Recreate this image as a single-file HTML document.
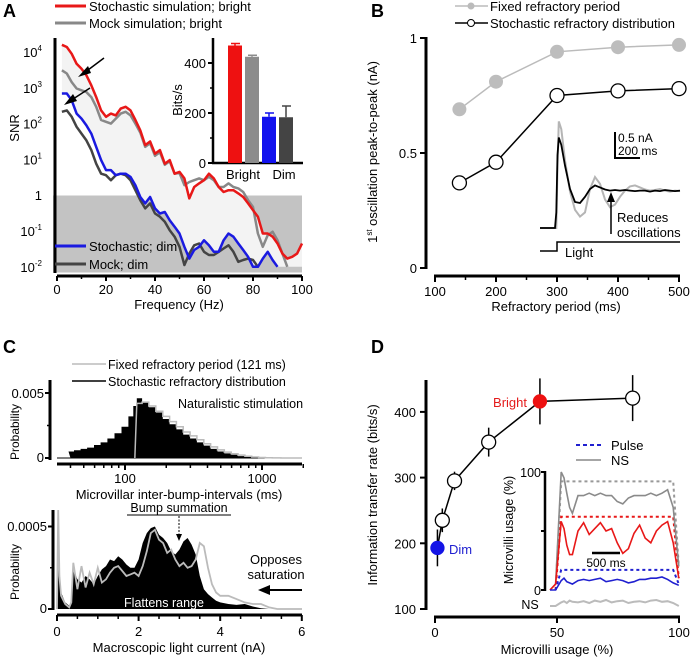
<!DOCTYPE html>
<html><head><meta charset="utf-8"><style>
html,body{margin:0;padding:0;background:#fff;}
svg{display:block;font-family:"Liberation Sans",Arial,sans-serif;}
</style></head><body>
<svg id="fig" width="691" height="657" viewBox="0 0 691 657">
<g id="pa">
<text x="3" y="17" font-size="18" font-weight="bold">A</text>
<rect x="53" y="195.5" width="249" height="77" fill="#c3c3c3"/>
<line x1="55" y1="6" x2="86" y2="6" stroke="#e81818" stroke-width="3"/>
<text x="89" y="11" font-size="13">Stochastic simulation; bright</text>
<line x1="55" y1="23" x2="86" y2="23" stroke="#888" stroke-width="3"/>
<text x="89" y="28" font-size="13">Mock simulation; bright</text>
<line x1="55" y1="38" x2="55" y2="273" stroke="#000" stroke-width="3"/>
<line x1="57" y1="276" x2="302" y2="276" stroke="#000" stroke-width="3"/>
<text transform="translate(19,128) rotate(-90)" text-anchor="middle" font-size="13">SNR</text>
<text x="179" y="309" text-anchor="middle" font-size="13">Frequency (Hz)</text>
<g id="aTicks"></g>
<g id="aFill"></g><g id="aLines"></g>
<line x1="55" y1="246" x2="86" y2="246" stroke="#1a1ae0" stroke-width="3"/>
<text x="89" y="251" font-size="13">Stochastic; dim</text>
<line x1="55" y1="264" x2="86" y2="264" stroke="#444" stroke-width="3"/>
<text x="89" y="269" font-size="13">Mock; dim</text>
<g><line x1="104" y1="58" x2="84" y2="73" stroke="#000" stroke-width="1.5"/><polygon points="78,77 88,66 91,73" fill="#000"/></g>
<g><line x1="90" y1="88" x2="70" y2="101" stroke="#000" stroke-width="1.5"/><polygon points="64,105 73,94 77,101" fill="#000"/></g>
<line x1="213" y1="38" x2="213" y2="163" stroke="#000" stroke-width="2.5"/>
<line x1="212" y1="163" x2="303" y2="163" stroke="#000" stroke-width="2.5"/>
<text transform="translate(182,100) rotate(-90)" text-anchor="middle" font-size="13">Bits/s</text>
<text x="243" y="179" text-anchor="middle" font-size="13">Bright</text>
<text x="284" y="179" text-anchor="middle" font-size="13">Dim</text>
<g id="aBars"></g>
</g>
<g id="pb">
<text x="371" y="17" font-size="18" font-weight="bold">B</text>
<line x1="455" y1="6" x2="488" y2="6" stroke="#bbb" stroke-width="1.5"/>
<circle cx="471" cy="6" r="3.5" fill="#bbb"/>
<text x="490" y="11" font-size="13">Fixed refractory period</text>
<line x1="455" y1="23" x2="488" y2="23" stroke="#000" stroke-width="1.5"/>
<circle cx="471" cy="23" r="3.5" fill="#fff" stroke="#000"/>
<text x="490" y="28" font-size="13">Stochastic refractory distribution</text>
<line x1="426" y1="37" x2="426" y2="269" stroke="#000" stroke-width="3"/>
<line x1="434" y1="276" x2="680" y2="276" stroke="#000" stroke-width="3"/>
<text transform="translate(377,152) rotate(-90)" text-anchor="middle" font-size="13">1<tspan font-size="8" dy="-5">st</tspan><tspan dy="5"> oscillation peak-to-peak (nA)</tspan></text>
<text x="556" y="311" text-anchor="middle" font-size="13">Refractory period (ms)</text>
<g id="bTicks"></g><g id="bInset"></g><g id="bLines"></g>
<polyline points="540,251 557,251 557,242 680,242" fill="none" stroke="#000" stroke-width="1.5"/>
<text x="565" y="257" font-size="13">Light</text>
<polyline points="615,132 615,158 640,158" fill="none" stroke="#000" stroke-width="2"/>
<text x="618" y="142" font-size="12">0.5 nA</text>
<text x="618" y="155" font-size="12">200 ms</text>
<g><line x1="611" y1="234" x2="611" y2="200" stroke="#000" stroke-width="1.5"/><polygon points="607,202 615,202 611,192" fill="#000"/></g>
<text x="617" y="222" font-size="13">Reduces</text>
<text x="617" y="237" font-size="13">oscillations</text>
</g>
<g id="pc">
<text x="3" y="353" font-size="18" font-weight="bold">C</text>
<line x1="72" y1="364" x2="106" y2="364" stroke="#bbb" stroke-width="1.5"/>
<text x="108" y="369" font-size="12.5">Fixed refractory period (121 ms)</text>
<line x1="72" y1="381" x2="106" y2="381" stroke="#000" stroke-width="1.5"/>
<text x="108" y="386" font-size="12.5">Stochastic refractory distribution</text>
<text x="178" y="408" font-size="12.5">Naturalistic stimulation</text>
<line x1="50" y1="380" x2="50" y2="460" stroke="#000" stroke-width="3"/>
<line x1="57" y1="464" x2="302" y2="464" stroke="#000" stroke-width="3"/>
<text transform="translate(19,432) rotate(-90)" text-anchor="middle" font-size="12">Probability</text>
<text x="179" y="499" text-anchor="middle" font-size="13">Microvillar inter-bump-intervals (ms)</text>
<g id="cTop"></g>
<line x1="53" y1="510" x2="53" y2="610" stroke="#000" stroke-width="3"/>
<line x1="57" y1="615" x2="302" y2="615" stroke="#000" stroke-width="3"/>
<text transform="translate(19,572) rotate(-90)" text-anchor="middle" font-size="12">Probability</text>
<text x="179" y="652" text-anchor="middle" font-size="13">Macroscopic light current (nA)</text>
<text x="179" y="512" text-anchor="middle" font-size="12.5">Bump summation</text>
<line x1="127" y1="515" x2="231" y2="515" stroke="#000" stroke-width="1"/>
<g id="cBot"></g>
<g><line x1="179" y1="516" x2="179" y2="536" stroke="#000" stroke-dasharray="2,1.5"/><polygon points="176,534 182,534 179,541" fill="#000"/></g>
<text x="276" y="564" text-anchor="middle" font-size="13">Opposes</text>
<text x="276" y="579" text-anchor="middle" font-size="13">saturation</text>
<g><line x1="302" y1="590" x2="266" y2="590" stroke="#000" stroke-width="2"/><polygon points="258,590 270,585 270,595" fill="#000"/></g>
<text x="164" y="607" text-anchor="middle" font-size="12.5" fill="#fff">Flattens range</text>
</g>
<g id="pd">
<text x="371" y="353" font-size="18" font-weight="bold">D</text>
<line x1="426" y1="380" x2="426" y2="610" stroke="#000" stroke-width="3"/>
<line x1="434" y1="617" x2="680" y2="617" stroke="#000" stroke-width="3"/>
<text transform="translate(377,495) rotate(-90)" text-anchor="middle" font-size="13">Information transfer rate (bits/s)</text>
<text x="557" y="654" text-anchor="middle" font-size="13">Microvilli usage (%)</text>
<g id="dTicks"></g><g id="dPts"></g>
<text x="527" y="407" text-anchor="end" font-size="13" fill="#e41a1a">Bright</text>
<text x="449" y="554" font-size="13" fill="#2020d0">Dim</text>
<line x1="576" y1="445" x2="601" y2="445" stroke="#2020d0" stroke-width="2" stroke-dasharray="4,3"/>
<text x="611" y="450" font-size="13">Pulse</text>
<line x1="576" y1="460" x2="601" y2="460" stroke="#888" stroke-width="1.5"/>
<text x="611" y="465" font-size="13">NS</text>
<line x1="545" y1="471" x2="545" y2="591" stroke="#000" stroke-width="2.5"/>
<text transform="translate(513,530) rotate(-90)" text-anchor="middle" font-size="12.5">Microvilli usage (%)</text>
<text x="541" y="477" text-anchor="end" font-size="12.5">100</text>
<text x="541" y="595" text-anchor="end" font-size="12.5">0</text>
<text x="530" y="609" text-anchor="middle" font-size="12.5">NS</text>
<line x1="592" y1="553" x2="620" y2="553" stroke="#000" stroke-width="2.5"/>
<text x="606" y="567" text-anchor="middle" font-size="12">500 ms</text>
<g id="dInset"></g>
</g>
</svg>
<script>
// ---------- Panel A data ----------
const aFreq=[2,4,6,8,10,12,14,16,18,20,22,24,26,28,30,32,34,36,38,40,42,44,46,48,50,52,54,56,58,60,62,64,66,68,70,72,74,76,78,80,82,84,86,88,90,92,94,96,98,100];
const aRedLog=[4.2,4.14,3.95,3.67,3.53,3.35,3.07,2.74,2.37,2.19,2.28,2.23,2.42,2.47,2.37,2.1,1.81,1.4,1.5,1.16,1.26,0.88,0.98,0.6,0.65,0.47,-0.09,0.23,0.33,0.42,0.6,0.47,0.23,0.09,0.14,0.14,0.05,-0.05,-0.23,-0.42,-0.6,-1.07,-1.07,-1.16,-1.35,-1.63,-1.77,-1.72,-1.63,-1.35];
const aMockLog=[3.49,3.4,3.16,2.98,2.93,2.88,2.74,2.47,2.1,2.05,2.0,2.14,2.28,2.33,2.23,2.0,1.75,1.35,1.45,1.1,1.2,0.85,0.95,0.6,0.62,0.28,0.37,0.42,0.47,0.42,0.51,0.42,0.23,0.23,0.33,0.23,0.19,0.09,-0.14,-0.33,-1.07,-1.44,-1.12,-1.02,-1.26,-1.63,-2,-2.1,-2.1,-2.1];
const aBlueLog=[2.84,2.84,2.65,2.28,2.14,1.95,1.72,1.35,0.98,0.7,0.7,0.56,0.6,0.6,0.51,0.28,-0.05,-0.23,-0.05,-0.37,-0.51,-0.47,-0.7,-0.88,-1.07,-1.44,-1.77,-1.53,-1.44,-1.26,-1.4,-1.58,-1.58,-1.26,-1.07,-1.16,-1.35,-1.53,-1.72,-2,-2,-1.77,-1.58,-1.81,-2,-2.1,-2.1,-2.1,-2.1,-2.1];
const aDimMockLog=[2.33,2.37,2.19,1.91,1.72,1.53,1.26,0.88,0.6,0.56,0.42,0.56,0.6,0.56,0.42,0.14,-0.14,-0.37,-0.23,-0.51,-0.6,-0.74,-0.98,-1.16,-1.44,-1.95,-1.63,-1.4,-1.35,-1.58,-1.67,-1.67,-1.58,-1.49,-1.4,-1.58,-1.86,-1.81,-1.77,-1.81,-2,-2.1,-2.1,-2.1,-2.1,-2.1,-2.1,-2.1,-2.1,-2.1];
const aXTicks=[0,20,40,60,80,100];
const aYTickExp=[4,3,2,1,0,-1,-2];
const barCats=["bright-stochastic","bright-mock","dim-stochastic","dim-mock"];
const barVals=[470,425,185,183];
const barErr=[8,6,15,45];
const barTicks=[0,200,400];
// ---------- Panel B data ----------
const bPeriods=[140,200,300,400,500];
const bFixed=[0.69,0.81,0.94,0.96,0.97];
const bStoch=[0.37,0.46,0.75,0.77,0.78];
const bXTicks=[100,200,300,400,500];
const bYTicks=[0,0.5,1];
const bTraceT=[0,120,130,140,150,170,200,240,280,320,360,400,440,480,520,560,600,640,680,720,760,800,840,880,920,960,1000,1040,1080,1120];
const bTraceBlack=[0,0,0.3,1.4,1.74,1.6,1.2,0.75,0.5,0.48,0.6,0.75,0.82,0.78,0.74,0.72,0.73,0.72,0.73,0.72,0.71,0.72,0.72,0.7,0.72,0.71,0.73,0.72,0.71,0.72];
const bTraceGray=[0,0,0,1.2,2.05,1.9,1.3,0.7,0.35,0.22,0.3,0.75,0.98,0.85,0.55,0.4,0.45,0.6,0.72,0.8,0.82,0.78,0.74,0.72,0.73,0.75,0.72,0.7,0.72,0.71];
// ---------- Panel C data ----------
const cIbiMs=[40,45,50,56,63,70,79,89,100,112,118,126,141,158,178,200,224,251,282,316,355,398,447,501,562,631,708,794,891,1000,1122,1259,1500];
const cIbiStoch=[0.5,0.6,0.7,0.8,1.0,1.2,1.5,1.9,2.4,3.2,4.0,4.6,4.3,3.9,3.5,3.0,2.6,2.2,1.8,1.5,1.2,0.95,0.7,0.5,0.35,0.25,0.15,0.08,0.03,0.01,0,0,0];
const cIbiFixed=[0,0,0,0,0,0,0,0,0,0,0,4.2,4.3,4.0,3.6,3.2,2.8,2.4,2.0,1.7,1.4,1.1,0.85,0.62,0.45,0.32,0.22,0.14,0.08,0.04,0.02,0.01,0];
const cTopXTicks=[100,1000];
const cCur=[0.03,0.06,0.1,0.2,0.3,0.35,0.4,0.5,0.6,0.7,0.8,0.9,1.0,1.1,1.2,1.3,1.4,1.5,1.6,1.7,1.8,1.9,2.0,2.1,2.2,2.3,2.4,2.5,2.6,2.7,2.8,2.9,3.0,3.1,3.2,3.3,3.4,3.5,3.6,3.7,3.8,3.9,4.0,4.2,4.4,4.6,4.8,5.0,5.2,5.4];
const cCurStoch=[6.0,2.5,1.0,0.4,0.2,0.5,2.4,1.8,1.6,2.0,1.8,1.5,2.0,2.4,2.6,3.0,2.9,3.2,3.0,2.7,2.5,2.5,3.0,4.0,4.6,4.9,5.0,4.5,4.3,4.0,3.5,3.3,3.6,4.1,4.3,3.9,3.3,2.0,1.2,0.9,0.7,0.5,0.4,0.3,0.25,0.3,0.15,0.05,0,0];
const cCurFixed=[6.0,2.0,0.8,0.3,0.1,0.4,2.8,1.2,2.6,1.3,2.2,1.5,2.5,1.6,1.8,2.2,2.5,2.6,2.3,2.0,2.1,2.2,2.0,2.6,3.5,4.6,4.8,4.2,4.0,3.4,3.6,3.0,2.6,2.8,2.5,2.6,3.0,4.0,3.8,2.5,1.5,1.0,0.8,0.8,0.6,0.4,0.3,0.3,0.1,0];
const cBotXTicks=[0,2,4,6];
// ---------- Panel D data ----------
const dUsage=[1,3,8,22,43,81];
const dRate=[193,235,295,354,416,421];
const dErr=[28,18,14,22,35,35];
const dXTicks=[0,50,100];
const dYTicks=[100,200,300,400];
const insT=[0,100,200,250,300,350,400,500,600,700,800,900,1000,1100,1200,1300,1400,1500,1600,1700,1800,1900,2000,2100,2200,2300];
const insGrayNS=[0,5,100,95,82,70,65,80,80,82,80,82,80,80,75,73,78,80,80,80,82,80,82,85,70,20];
const insRedNS=[0,5,58,52,38,30,30,50,57,47,52,57,50,52,40,31,35,48,55,44,40,50,55,58,40,10];
const insBlueNS=[0,0,8,10,7,6,5,8,9,8,9,10,7,8,9,8,6,7,9,9,10,10,11,9,6,4];
const pulseT=[100,200,2200,2300];
const pulseGray=[0,92,92,20];
const pulseRed=[0,62,62,10];
const pulseBlue=[0,17,17,5];
const nsStim=[0,0,0.6,0.8,0.5,0.9,0.7,0.6,0.8,0.5,0.9,0.7,1,0.6,0.8,0.9,0.5,0.7,0.8,0.6,0.9,1,0.7,0.8,0.5,0];

const NS="http://www.w3.org/2000/svg";
function mk(parent,tag,attrs,name){
  const el=document.createElementNS(NS,tag);
  for(const k in attrs) el.setAttribute(k,attrs[k]);
  
  
  document.getElementById(parent).appendChild(el);
  return el;
}
function txt(parent,x,y,s,anchor,name,size){
  const t=mk(parent,'text',{x:x,y:y,'text-anchor':anchor||'middle','font-size':size||13},name);
  t.textContent=s;return t;
}
const pts=(xs,ys,fx,fy)=>xs.map((v,i)=>fx(v).toFixed(1)+','+fy(ys[i]).toFixed(1)).join(' ');

// ---- Panel A ----
const xA=f=>57+f*2.45;
const yA=l=>52+(4-Math.max(l,-2))*35.8;
aXTicks.forEach(v=>{mk('aTicks','line',{x1:xA(v),y1:276,x2:xA(v),y2:281,stroke:'#000','stroke-width':2},'a-x-tick');txt('aTicks',xA(v),294,String(v),'middle','a-x-tick-label');});
for(let v=0;v<=100;v+=10) mk('aTicks','line',{x1:xA(v),y1:276,x2:xA(v),y2:279,stroke:'#000','stroke-width':1.5},'a-x-minor-tick');
aYTickExp.forEach(e=>{
  const t=mk('aTicks','text',{x:42,y:yA(e)+5,'text-anchor':'end','font-size':13},'a-y-tick-label');
  if(e===0){t.textContent='1';}else{t.textContent='10';const s=document.createElementNS(NS,'tspan');s.setAttribute('font-size','8');s.setAttribute('dy','-6');s.textContent=String(e);t.appendChild(s);}
});
mk('aFill','polygon',{points:pts(aFreq,aRedLog,xA,yA)+' '+pts(aFreq.slice().reverse(),aBlueLog.slice().reverse(),xA,yA),fill:'#f3f3f3'},'bright-dim-gap-fill');
[[aDimMockLog,'#444','mock-dim-line'],[aBlueLog,'#1a1ae0','stochastic-dim-line'],[aMockLog,'#888','mock-bright-line'],[aRedLog,'#e81818','stochastic-bright-line']].forEach(s=>{
  const n=s[0].findIndex((v,i)=>i>20&&v<=-2.05);const k=n<0?aFreq.length:n;
  mk('aLines','polyline',{points:pts(aFreq.slice(0,k),s[0].slice(0,k),xA,yA),fill:'none',stroke:s[1],'stroke-width':2.5,'stroke-linejoin':'round'},s[2]);
});
const yBar=v=>163-v*0.25;
const barCol=['#ee1111','#8c8c8c','#1111ee','#444'];
const barX=[228,245,262,279];
barTicks.forEach(v=>{mk('aBars','line',{x1:208,y1:yBar(v),x2:213,y2:yBar(v),stroke:'#000','stroke-width':2},'bar-y-tick');txt('aBars',206,yBar(v)+5,String(v),'end','bar-y-tick-label');});
[100,300].forEach(v=>mk('aBars','line',{x1:210,y1:yBar(v),x2:213,y2:yBar(v),stroke:'#000','stroke-width':1.5},'bar-y-minor-tick'));
barVals.forEach((v,i)=>{
  mk('aBars','line',{x1:barX[i]+7,y1:yBar(v),x2:barX[i]+7,y2:yBar(v+barErr[i]),stroke:barCol[i],'stroke-width':1.5},'bar-error-'+barCats[i]);
  mk('aBars','line',{x1:barX[i]+3,y1:yBar(v+barErr[i]),x2:barX[i]+12,y2:yBar(v+barErr[i]),stroke:barCol[i],'stroke-width':1.5},'bar-error-cap-'+barCats[i]);
  mk('aBars','rect',{x:barX[i],y:yBar(v),width:14,height:163-yBar(v),fill:barCol[i]},'bar-'+barCats[i]);
});

// ---- Panel B ----
const xB=r=>435+(r-100)*0.61;
const yB=v=>268-v*230;
bXTicks.forEach(v=>{mk('bTicks','line',{x1:xB(v),y1:276,x2:xB(v),y2:282,stroke:'#000','stroke-width':2},'b-x-tick');txt('bTicks',xB(v),296,String(v),'middle','b-x-tick-label');});
[150,250,350,450].forEach(v=>mk('bTicks','line',{x1:xB(v),y1:276,x2:xB(v),y2:280,stroke:'#000','stroke-width':1.5},'b-x-minor-tick'));
bYTicks.forEach(v=>{mk('bTicks','line',{x1:420,y1:yB(v),x2:426,y2:yB(v),stroke:'#000','stroke-width':2},'b-y-tick');txt('bTicks',417,yB(v)+5,String(v),'end','b-y-tick-label');});
const xT=t=>540+t*0.125, yT=v=>228-v*52;
mk('bInset','polyline',{points:pts(bTraceT,bTraceGray,xT,yT),fill:'none',stroke:'#b5b5b5','stroke-width':2},'trace-fixed');
mk('bInset','polyline',{points:pts(bTraceT,bTraceBlack,xT,yT),fill:'none',stroke:'#000','stroke-width':1.8},'trace-stochastic');
mk('bLines','polyline',{points:pts(bPeriods,bFixed,xB,yB),fill:'none',stroke:'#bbb','stroke-width':1.5},'fixed-line');
bPeriods.forEach((p,i)=>mk('bLines','circle',{cx:xB(p),cy:yB(bFixed[i]),r:7,fill:'#bdbdbd'},'fixed-point'));
mk('bLines','polyline',{points:pts(bPeriods,bStoch,xB,yB),fill:'none',stroke:'#000','stroke-width':1.5},'stochastic-line');
bPeriods.forEach((p,i)=>mk('bLines','circle',{cx:xB(p),cy:yB(bStoch[i]),r:7,fill:'#fff',stroke:'#000','stroke-width':1.3},'stochastic-point'));

// ---- Panel C top ----
const xC=ms=>125+(Math.log10(ms)-2)*137;
const yC=p=>458-p*13;
function stepPts(xs,ys,fx,fy){
  let s=[];
  for(let i=0;i<xs.length;i++){
    const l=i===0?fx(xs[0])-2:(fx(xs[i-1])+fx(xs[i]))/2;
    const r=i===xs.length-1?fx(xs[i])+2:(fx(xs[i])+fx(xs[i+1]))/2;
    s.push(l.toFixed(1)+','+fy(ys[i]).toFixed(1),r.toFixed(1)+','+fy(ys[i]).toFixed(1));
  }
  return s.join(' ');
}
mk('cTop','line',{x1:57,y1:458,x2:302,y2:458,stroke:'#000','stroke-width':1},'ibi-baseline');
mk('cTop','polygon',{points:xC(cIbiMs[0])+',458 '+stepPts(cIbiMs,cIbiStoch,xC,yC)+' '+xC(1500)+',458',fill:'#000'},'ibi-stochastic-hist');
mk('cTop','polyline',{points:xC(118)+',458 '+stepPts(cIbiMs.slice(11),cIbiFixed.slice(11),xC,yC)+' 302,458',fill:'none',stroke:'#bbb','stroke-width':1.5},'ibi-fixed-hist');
mk('cTop','line',{x1:45,y1:yC(5),x2:50,y2:yC(5),stroke:'#000','stroke-width':2},'c-top-y-tick');
mk('cTop','line',{x1:45,y1:458,x2:50,y2:458,stroke:'#000','stroke-width':2},'c-top-y-tick');
mk('cTop','line',{x1:47,y1:yC(2.5),x2:50,y2:yC(2.5),stroke:'#000','stroke-width':1.5},'c-top-y-minor-tick');
txt('cTop',44,398,'0.005','end','c-top-y-tick-label');txt('cTop',44,462,'0','end','c-top-y-tick-label');
[40,50,60,70,80,90,100,200,300,400,500,600,700,800,900,1000,2000].forEach(v=>{const big=v===100||v===1000;mk('cTop','line',{x1:xC(v),y1:464,x2:xC(v),y2:big?470:468,stroke:'#000','stroke-width':big?2:1.5},'c-top-x-tick');});
cTopXTicks.forEach(v=>txt('cTop',xC(v),483,String(v),'middle','c-top-x-tick-label'));

// ---- Panel C bottom ----
const xC2=n=>57+n*40.8;
const yC2=p=>609-p*16.5;
mk('cBot','polygon',{points:'57,609 '+pts(cCur,cCurStoch,xC2,yC2)+' '+xC2(5.4)+',609',fill:'#000'},'current-stochastic-hist');
mk('cBot','polyline',{points:'57,609 '+pts(cCur,cCurFixed,xC2,yC2)+' 302,609',fill:'none',stroke:'#bbb','stroke-width':1.8},'current-fixed-hist');
mk('cBot','line',{x1:48,y1:yC2(5),x2:53,y2:yC2(5),stroke:'#000','stroke-width':2},'c-bot-y-tick');
mk('cBot','line',{x1:50,y1:yC2(2.5),x2:53,y2:yC2(2.5),stroke:'#000','stroke-width':1.5},'c-bot-y-minor-tick');
mk('cBot','line',{x1:48,y1:609,x2:53,y2:609,stroke:'#000','stroke-width':2},'c-bot-y-tick');
txt('cBot',47,531,'0.0005','end','c-bot-y-tick-label');txt('cBot',47,613,'0','end','c-bot-y-tick-label');
for(let v=0;v<=6;v+=0.5) mk('cBot','line',{x1:xC2(v),y1:615,x2:xC2(v),y2:v%2===0?621:619,stroke:'#000','stroke-width':v%2===0?2:1.5},'c-bot-x-tick');
cBotXTicks.forEach(v=>txt('cBot',xC2(v),636,String(v),'middle','c-bot-x-tick-label'));

// ---- Panel D ----
const xD=u=>435+u*2.44;
const yD=v=>609-(v-100)*0.657;
dXTicks.forEach(v=>{mk('dTicks','line',{x1:xD(v),y1:617,x2:xD(v),y2:623,stroke:'#000','stroke-width':2},'d-x-tick');txt('dTicks',xD(v),637,String(v),'middle','d-x-tick-label');});
dYTicks.forEach(v=>{mk('dTicks','line',{x1:420,y1:yD(v),x2:426,y2:yD(v),stroke:'#000','stroke-width':2},'d-y-tick');txt('dTicks',416,yD(v)+5,String(v),'end','d-y-tick-label');});
mk('dPts','polyline',{points:pts(dUsage,dRate,xD,yD),fill:'none',stroke:'#000','stroke-width':1.5},'rate-line');
dUsage.forEach((u,i)=>{
  mk('dPts','line',{x1:xD(u),y1:yD(dRate[i]-dErr[i]),x2:xD(u),y2:yD(dRate[i]+dErr[i]),stroke:'#000','stroke-width':1.5},'rate-error-bar');
  const fill=i===0?'#1414e6':(i===4?'#ee1111':'#fff');
  mk('dPts','circle',{cx:xD(u),cy:yD(dRate[i]),r:i===0||i===4?6.5:7,fill:fill,stroke:i===0||i===4?fill:'#000','stroke-width':1.3},'rate-point');
});
const xI=t=>550+t*0.056, yI=p=>590-p*1.18, yNS=v=>606-v*6;
mk('dInset','line',{x1:541,y1:yI(50),x2:545,y2:yI(50),stroke:'#000','stroke-width':2},'inset-tick-50');
mk('dInset','line',{x1:541,y1:yI(100),x2:545,y2:yI(100),stroke:'#000','stroke-width':2},'inset-tick-100-mark');
mk('dInset','line',{x1:541,y1:yI(0),x2:545,y2:yI(0),stroke:'#000','stroke-width':2},'inset-tick-0-mark');
[[pulseGray,'#999','pulse-bright-high'],[pulseRed,'#e81818','pulse-bright'],[pulseBlue,'#2020d0','pulse-dim']].forEach(s=>mk('dInset','polyline',{points:pts(pulseT,s[0],xI,yI),fill:'none',stroke:s[1],'stroke-width':2,'stroke-dasharray':'3,3'},s[2]));
[[insGrayNS,'#8a8a8a','ns-high'],[insRedNS,'#e81818','ns-bright'],[insBlueNS,'#2020d0','ns-dim']].forEach(s=>mk('dInset','polyline',{points:pts(insT,s[0],xI,yI),fill:'none',stroke:s[1],'stroke-width':1.6},s[2]));
mk('dInset','polyline',{points:pts(insT,nsStim,xI,yNS),fill:'none',stroke:'#bbb','stroke-width':2},'ns-stimulus-trace');
</script>
</body></html>
